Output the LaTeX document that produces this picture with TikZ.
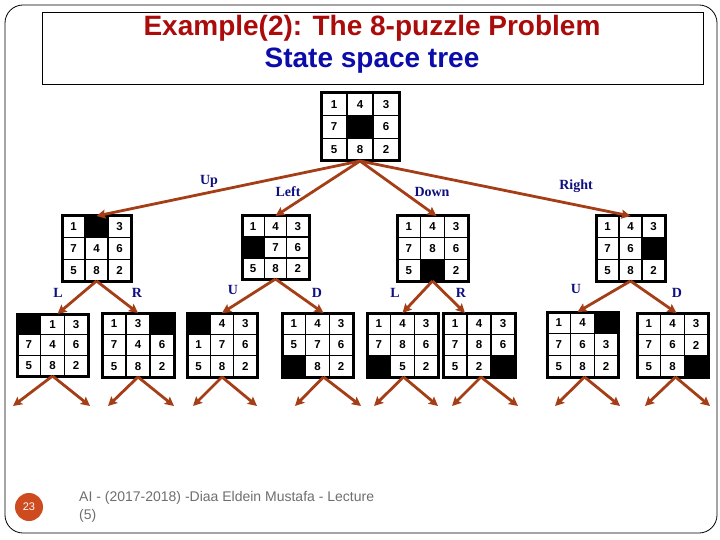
\documentclass[tikz,border=0pt]{standalone}
\usepackage{fontspec}
\setmainfont{Liberation Serif}
\newfontfamily\arialf{Liberation Sans}
\usetikzlibrary{arrows.meta,calc}
\definecolor{connc}{RGB}{165,62,22}
\definecolor{navyc}{RGB}{15,15,125}
\definecolor{ttlred}{RGB}{170,12,12}
\definecolor{ttlblue}{RGB}{12,12,170}
\definecolor{badgec}{RGB}{205,75,30}
\definecolor{footc}{RGB}{110,110,110}
\newcommand\puz[6]{%
  \foreach \v [count=\i from 0] in {#6} {%
    \pgfmathtruncatemacro\puzc{mod(\i,3)}%
    \pgfmathtruncatemacro\puzr{div(\i,3)}%
    \ifnum\v=0
      \fill[black] ({#2+\puzc*#4/3},{#3+\puzr*#5/3}) rectangle ++({#4/3},{#5/3});
    \else
      \node[digit] at ({#2+(\puzc+0.5)*#4/3},{#3+(\puzr+0.5)*#5/3}) {\v};
    \fi
  }
  \draw[line width=1.5pt] ({#2+#4/3},#3) -- ++(0,#5) ({#2+2*#4/3},#3) -- ++(0,#5)
    (#2,{#3+#5/3}) -- ++(#4,0) (#2,{#3+2*#5/3}) -- ++(#4,0);
  \node[puzbox, minimum width=#4pt, minimum height=#5pt, anchor=north west] (#1) at (#2,#3) {};
}
\begin{document}
\begin{tikzpicture}[x=1pt,y=-1pt,
  puzbox/.style={draw, line width=3pt, inner sep=0pt, outer sep=0pt},
  digit/.style={font=\arialf\bfseries\fontsize{11.5}{12}\selectfont, inner sep=0pt},
  conn/.style={draw=connc, line width=2.8pt, -{Stealth[length=9pt,width=9pt,inset=1.5pt]}},
  lbl/.style={font=\bfseries\fontsize{14}{14}\selectfont, text=navyc, inner sep=0pt}]
\useasboundingbox (0,0) rectangle (720,540);
% frame and title
\draw[line width=0.8pt, rounded corners=18pt] (5,5) rectangle (717,533);
\node[draw, line width=0.8pt, minimum width=661pt, minimum height=72pt, anchor=north west, inner sep=0pt] (tbox) at (42,12) {};
\node[font=\arialf\bfseries\fontsize{28}{28}\selectfont, text=ttlred, inner sep=0pt] (t1) at (372,28) {Example(2): The 8-puzzle Problem};
\node[font=\arialf\bfseries\fontsize{28}{28}\selectfont, text=ttlblue, inner sep=0pt] (t2) at (372,61) {State space tree};
% puzzles
\puz{root}{321}{93}{78}{68}{1,4,3,7,0,6,5,8,2}
\puz{A}{62}{216}{69}{65}{1,0,3,7,4,6,5,8,2}
\puz{B}{242}{216}{67}{63}{1,4,3,0,7,6,5,8,2}
\puz{C}{397}{216}{71}{65}{1,4,3,7,8,6,5,0,2}
\puz{D}{596}{216}{69}{65}{1,4,3,7,6,0,5,8,2}
\puz{P1}{17}{314}{71}{62}{0,1,3,7,4,6,5,8,2}
\puz{P2}{102}{313}{72}{64}{1,3,0,7,4,6,5,8,2}
\puz{P3}{187}{313}{70}{64}{0,4,3,1,7,6,5,8,2}
\puz{P4}{282}{313}{71}{64}{1,4,3,5,7,6,0,8,2}
\puz{P5}{367}{313}{71}{64}{1,4,3,7,8,6,0,5,2}
\puz{P6}{443}{313}{72}{64}{1,4,3,7,8,6,5,2,0}
\puz{P7}{547}{312}{71}{65}{1,4,0,7,6,3,5,8,2}
\puz{P8}{637}{313}{71}{64}{1,4,3,7,6,2,5,8,0}
% level 1
\draw[conn] (root.south) -- (A.north);
\draw[conn] (root.south) -- (B.north);
\draw[conn] (root.south) -- ([xshift=4pt]C.north);
\draw[conn] (root.south) -- (D.north);
\node[lbl] (lUp) at (209,181) {Up};
\node[lbl] (lLeft) at (288,192) {Left};
\node[lbl] (lDown) at (432,192) {Down};
\node[lbl] (lRight) at (576,186) {Right};
% level 2
\draw[conn] (A.south) -- ([xshift=5pt]P1.north);
\draw[conn] (A.south) -- (P2.north);
\draw[conn] (B.south) -- (P3.north);
\draw[conn] (B.south) -- ([xshift=6pt]P4.north);
\draw[conn] (C.south) -- (P5.north);
\draw[conn] (C.south) -- ([xshift=-14pt]P6.north);
\draw[conn] (D.south) -- ([xshift=-5pt]P7.north);
\draw[conn] (D.south) -- ([xshift=4pt]P8.north);
\node[lbl] (l1) at (58,293) {L};
\node[lbl] (r1) at (137,293) {R};
\node[lbl] (u1) at (233,290) {U};
\node[lbl] (d1) at (317,293) {D};
\node[lbl] (l2) at (395,293) {L};
\node[lbl] (r2) at (461,293) {R};
\node[lbl] (u2) at (576,289) {U};
\node[lbl] (d2) at (677,293) {D};
% level 3 free ends
\foreach \p/\dx/\a/\b in {P1/0/13/90, P2/0/108/174, P3/0/193/257, P4/6/295/361, P5/1/374/438, P6/2/452/518, P7/2/555/620, P8/3/645/710} {
  \coordinate (\p a) at (\a,406);
  \coordinate (\p b) at (\b,406);
  \draw[conn] ([xshift=\dx pt]\p.south) -- (\p a);
  \draw[conn] ([xshift=\dx pt]\p.south) -- (\p b);
}
% footer
\node[circle, fill=badgec, minimum size=28pt, inner sep=0pt, font=\arialf\fontsize{11}{11}\selectfont, text=white] (badge) at (29,507) {23};
\node[anchor=base west, font=\arialf\fontsize{14}{14}\selectfont, text=footc, inner sep=0pt] (f1) at (79,501) {AI - (2017-2018) -Diaa Eldein Mustafa - Lecture};
\node[anchor=base west, font=\arialf\fontsize{14}{14}\selectfont, text=footc, inner sep=0pt] (f2) at (79,519) {(5)};
\end{tikzpicture}
\end{document}
